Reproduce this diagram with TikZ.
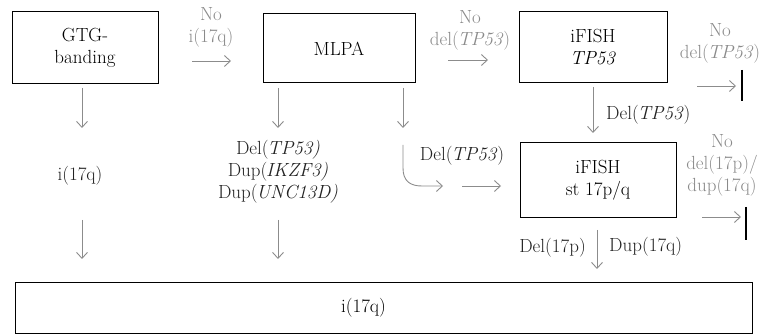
\documentclass[tikz,border=0pt]{standalone}
\usepackage{fontspec}
\usetikzlibrary{arrows.meta}
\definecolor{arrowgray}{HTML}{8C8C8C}
\definecolor{nogray}{HTML}{8A8A8A}
\definecolor{labeldark}{HTML}{222222}
% italic gene name set close to the opening parenthesis
\newcommand{\gene}[1]{\kern-1.2pt\textit{#1}}
\begin{document}
\begin{tikzpicture}[x=1pt,y=-1pt,
  font=\fontsize{19}{22}\selectfont,
  stepbox/.style={draw=black,line width=1pt,inner sep=0pt,align=center},
  flow/.style={draw=arrowgray,line width=0.9pt,-{Straight Barb[length=6pt,width=11pt]}},
  stopbar/.style={draw=black,line width=1.3pt},
  nolabel/.style={text=nogray,align=center,inner sep=0pt},
  reslabel/.style={text=labeldark,align=center,inner sep=0pt}]
\useasboundingbox (0,0) rectangle (760,336);

% method boxes
\node[stepbox,minimum width=146pt,minimum height=72pt] (gtg) at (85,48) {GTG-\\banding};
\node[stepbox,minimum width=152pt,minimum height=69pt] (mlpa) at (339,48.5) {MLPA};
\node[stepbox,minimum width=148pt,minimum height=71pt] (fisha) at (593,47.5) {iFISH\\\textit{TP53}};
\node[stepbox,minimum width=156pt,minimum height=75pt] (fishb) at (598,180.5) {iFISH\\st 17p/q};
\node[stepbox,minimum width=737pt,minimum height=51pt] (result) at (383.5,308) {\hspace*{-40pt}i(17q)};

% arrow end points
\coordinate (g1s) at (82,88);   \coordinate (g1e) at (82,128);
\coordinate (g2s) at (82,220);  \coordinate (g2e) at (82,259);
\coordinate (m1s) at (278,88);  \coordinate (m1e) at (278,128);
\coordinate (m2s) at (278,220); \coordinate (m2e) at (278,259);
\coordinate (m3s) at (403,88);  \coordinate (m3e) at (403,128);
\coordinate (h1s) at (403,145); \coordinate (h1e) at (443,186);
\coordinate (h2s) at (462,186); \coordinate (h2e) at (501,186);
\coordinate (t1s) at (192,61);  \coordinate (t1e) at (231,61);
\coordinate (t2s) at (448,60);  \coordinate (t2e) at (488,60);
\coordinate (t3s) at (697,86);  \coordinate (t3e) at (736,86);
\coordinate (t4s) at (702,217); \coordinate (t4e) at (741,217);
\coordinate (f1s) at (593,87);  \coordinate (f1e) at (593,133);
\coordinate (f2s) at (597,230); \coordinate (f2e) at (597,269);

% arrows
\draw[flow] (g1s) -- (g1e);
\draw[flow] (g2s) -- (g2e);
\draw[flow] (m1s) -- (m1e);
\draw[flow] (m2s) -- (m2e);
\draw[flow] (m3s) -- (m3e);
\draw[flow] (h1s) -- (403,168) .. controls (403,181) and (410,186) .. (422,186) -- (h1e);
\draw[flow] (h2s) -- (h2e);
\draw[flow] (t1s) -- (t1e);
\draw[flow] (t2s) -- (t2e);
\draw[flow] (t3s) -- (t3e);
\draw[flow] (t4s) -- (t4e);
\draw[flow] (f1s) -- (f1e);
\draw[flow] (f2s) -- (f2e);

% stop bars
\draw[stopbar] (742,70) -- (742,101);
\draw[stopbar] (746,207) -- (746,240);

% labels
\node[nolabel] (n1) at (211,27) {No\\i(17q)};
\node[nolabel] (n2) at (470,30) {No\\del(\gene{TP53})};
\node[nolabel] (n3) at (720,43) {No\\del(\gene{TP53})};
\node[nolabel] (n4) at (722,165) {No\\del(17p)/\\dup(17q)};
\node[reslabel] (l1) at (80,176) {i(17q)};
\node[reslabel] (l2) at (278,172) {Del(\gene{TP53)}\\Dup(\gene{IKZF3)}\\Dup(\gene{UNC13D)}};
\node[reslabel] (l3) at (462,156) {Del(\gene{TP53})};
\node[reslabel,anchor=west] (l4) at (606,115) {Del(\gene{TP53})};
\node[reslabel,anchor=east] (l5) at (586,248) {Del(17p)};
\node[reslabel,anchor=west] (l6) at (609,247) {Dup(17q)};
\end{tikzpicture}
\end{document}
